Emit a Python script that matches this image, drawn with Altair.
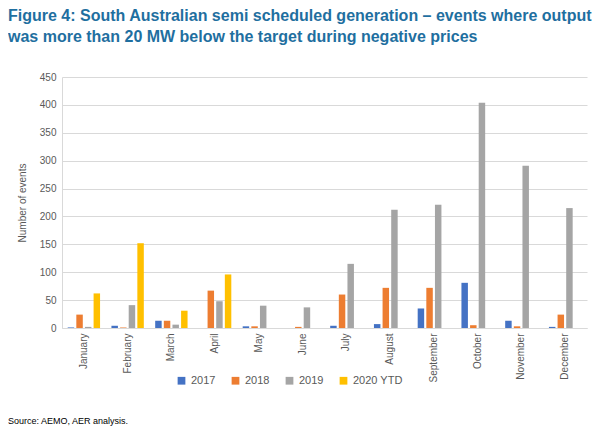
import altair as alt
import pandas as pd

months = ["January", "February", "March", "April", "May", "June", "July",
          "August", "September", "October", "November", "December"]
series = ["2017", "2018", "2019", "2020 YTD"]
v2017 = [1, 4, 13, 0, 3, 0, 4, 7, 35, 81, 13, 2]
v2018 = [24, 1, 13, 67, 3, 2, 60, 72, 72, 5, 3, 24]
v2019 = [2, 41, 6, 48, 40, 37, 115, 212, 221, 404, 291, 215]
v2020 = [62, 152, 31, 96, None, None, None, None, None, None, None, None]
colors = ["#4472C4", "#ED7D31", "#A5A5A5", "#FFC000"]

rows = []
for name, vals in zip(series, [v2017, v2018, v2019, v2020]):
    for m, v in zip(months, vals):
        if v is not None:
            rows.append({"month": m, "series": name, "value": v})
df = pd.DataFrame(rows)

font = "Liberation Sans"

bars = alt.Chart(df).mark_bar().encode(
    x=alt.X("month:N", sort=months, title=None,
            scale=alt.Scale(paddingInner=0.26, paddingOuter=0.13),
            axis=alt.Axis(labelAngle=270, labelFontSize=10, labelColor="#595959",
                          labelFont=font, ticks=False, domainColor="#D9D9D9",
                          labelPadding=5)),
    xOffset=alt.XOffset("series:N", sort=series, scale=alt.Scale(paddingInner=0.25)),
    y=alt.Y("value:Q", title="Number of events",
            scale=alt.Scale(domain=[0, 450]),
            axis=alt.Axis(values=list(range(0, 451, 50)), labelFontSize=10,
                          labelColor="#595959", labelFont=font, ticks=False,
                          domainColor="#D9D9D9", gridColor="#D9D9D9",
                          titleFont=font, titleFontSize=10, titleFontWeight="normal",
                          titleColor="#595959", titlePadding=12, labelPadding=6)),
    color=alt.Color("series:N", sort=series,
                    scale=alt.Scale(domain=series, range=colors),
                    legend=alt.Legend(title=None, orient="none", direction="horizontal",
                                      legendX=114, legendY=298, symbolType="square",
                                      symbolSize=60, labelFontSize=11, labelFont=font,
                                      labelColor="#595959", columnPadding=14,
                                      symbolStrokeWidth=0)),
)

source = alt.Chart(pd.DataFrame({"t": ["Source: AEMO, AER analysis."]})).mark_text(
    align="left", baseline="alphabetic", fontSize=9, font=font, color="#000000"
).encode(x=alt.value(-54), y=alt.value(347), text="t:N")

chart = alt.layer(bars, source).properties(
    width=525, height=251,
    title=alt.TitleParams(
        ["Figure 4: South Australian semi scheduled generation – events where output",
         "was more than 20 MW below the target during negative prices"],
        anchor="start", dx=-54, font=font, fontSize=16, fontWeight="bold",
        color="#1F6FA0", lineHeight=21, offset=27, frame="group"),
    autosize=alt.AutoSizeParams(type="none"),
    padding={"left": 54, "top": 69, "right": 5, "bottom": 104},
).configure_view(stroke=None)

chart.save("out.html", embed_options={"renderer": "svg", "actions": False})
